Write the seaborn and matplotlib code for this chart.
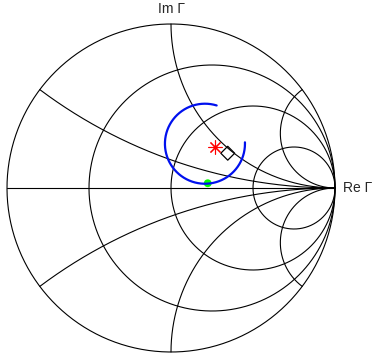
import numpy as np
import pandas as pd
import seaborn as sns
import matplotlib
matplotlib.use('Agg')
import matplotlib.pyplot as plt

# Grade da carta de Smith (resistencia e reatancia normalizadas)
r_vals = [0, 1/3, 1, 3]
x_vals = [1/3, 1, 3, -1/3, -1, -3]

# Arco azul (circulo no plano Gamma)
arc_center = (0.207, 0.270)
arc_radius = 0.244
arc_start_deg = 73
arc_end_deg = 362

# Pontos marcados
star_pt = (0.268, 0.248)
diamond_pt = (0.346, 0.212)
green_pt = (0.224, 0.029)

sns.set_style('white')
plt.rcParams['font.family'] = ['Liberation Sans', 'DejaVu Sans']

fig = plt.figure(figsize=(3.73, 3.57), dpi=100)
ax = fig.add_axes([0, 0, 1, 1])

grid_kw = dict(color='black', linewidth=0.8, sort=False, estimator=None, legend=False)

# circulos de resistencia constante
t = np.linspace(0, 2 * np.pi, 600)
for r in r_vals:
    c = r / (1 + r)
    rad = 1 / (1 + r)
    df = pd.DataFrame({'re': c + rad * np.cos(t), 'im': rad * np.sin(t)})
    sns.lineplot(data=df, x='re', y='im', ax=ax, **grid_kw)

# eixo real
sns.lineplot(x=[-1, 1], y=[0, 0], ax=ax, **grid_kw)

# arcos de reatancia constante
r_sweep = np.concatenate([[0], np.logspace(-3, 4, 1500)])
for xv in x_vals:
    z = r_sweep + 1j * xv
    g = (z - 1) / (z + 1)
    df = pd.DataFrame({'re': g.real, 'im': g.imag})
    sns.lineplot(data=df, x='re', y='im', ax=ax, **grid_kw)

# arco azul
a = np.radians(np.linspace(arc_start_deg, arc_end_deg, 400))
arc = pd.DataFrame({'re': arc_center[0] + arc_radius * np.cos(a),
                    'im': arc_center[1] + arc_radius * np.sin(a)})
sns.lineplot(data=arc, x='re', y='im', ax=ax, color='#0010ee', linewidth=1.6,
             sort=False, estimator=None, legend=False)

# marcadores
ax.plot(star_pt[0], star_pt[1], marker=(8, 2, 0), color='red', markersize=10,
        markeredgewidth=0.8, linestyle='')
sns.scatterplot(x=[diamond_pt[0]], y=[diamond_pt[1]], marker='D', s=50,
                facecolor='none', edgecolor='black', linewidth=0.9, ax=ax)
sns.scatterplot(x=[green_pt[0]], y=[green_pt[1]], marker='o', s=32,
                color='#00ff00', edgecolor='none', ax=ax)

ax.text(0, 1.091, 'Im \u0393', ha='center', va='center', fontsize=10)
ax.text(1.049, 0, 'Re \u0393', ha='left', va='center', fontsize=10)

ax.set_xlim(-171 / 164, 202 / 164)
ax.set_ylim(-169 / 164, 188 / 164)
ax.axis('off')

fig.savefig('out.png', dpi=100)
